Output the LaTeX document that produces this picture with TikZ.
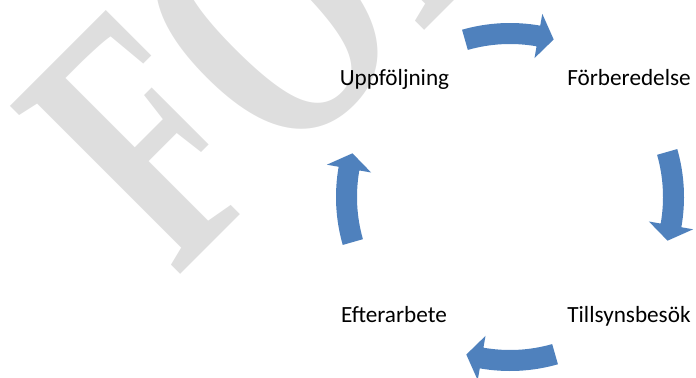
\documentclass[tikz,border=0pt]{standalone}
\usepackage{fontspec}
\setmainfont{Carlito}
\newfontfamily\wmfont{Liberation Serif}

\definecolor{cycleblue}{RGB}{79,129,189}
\definecolor{wmgray}{RGB}{222,222,222}
\tikzset{
  steplabel/.style={anchor=base, inner sep=0pt, font=\fontsize{17.4}{20}\selectfont},
  cyclearrow/.style={fill=cycleblue, draw=none},
}

\begin{document}
\begin{tikzpicture}[x=0.75pt, y=-0.75pt]
          \useasboundingbox (0,0) rectangle (696,378);
          \clip (0,0) rectangle (696,378);

          \node (wm) [anchor=base west, inner sep=0pt, rotate=45, text=wmgray] at (176,279)
            {\scalebox{0.68}[1]{\wmfont\bfseries\fontsize{274}{274}\selectfont FÖRSLAG}};

          \begin{scope}[shift={(510,197)}, yscale=-1]
            \foreach \a in {90,0,-90,180}
              \fill[cyclearrow] ({\a+16}:153) -- ({\a+16}:174)
                arc[start angle=\a+16, end angle=\a-10, radius=174]
                -- ({\a-10}:186) -- ({\a-15.5}:163.5) -- ({\a-10}:141) -- ({\a-10}:153)
                arc[start angle=\a-10, end angle=\a+16, radius=153] -- cycle;
          \end{scope}

          \node (uppf) [steplabel] at (394.5,85) {Uppföljning};
          \node (forb) [steplabel] at (629,85) {Förberedelse};
          \node (efter) [steplabel] at (394,322) {Efterarbete};
          \node (tills) [steplabel] at (629,322) {Tillsynsbesök};
        \end{tikzpicture}
\end{document}
